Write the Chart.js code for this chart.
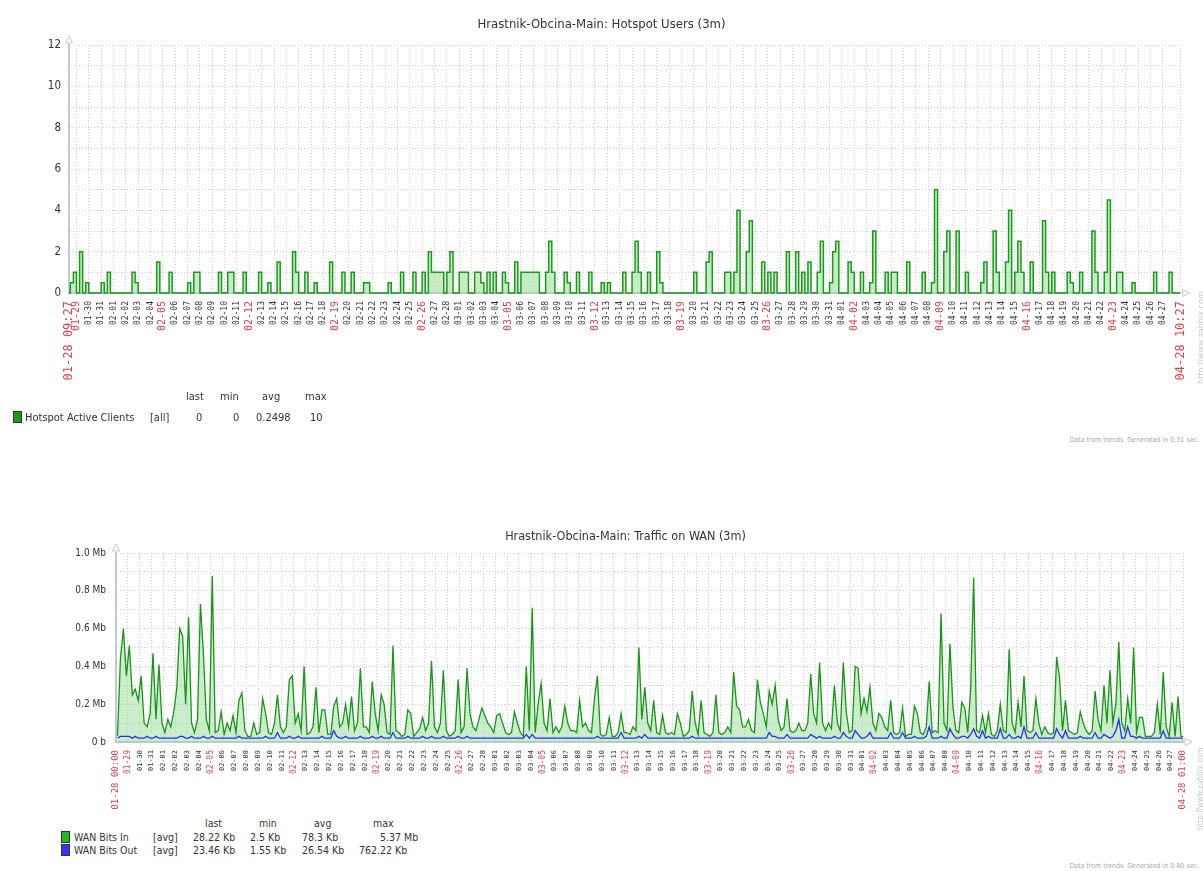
<!DOCTYPE html>
<html>
<head>
<meta charset="utf-8">
<script src="https://cdn.jsdelivr.net/npm/chart.js@4.4.1/dist/chart.umd.min.js"></script>
<style>
  body { margin: 0; background: #fff; width: 1203px; height: 871px; overflow: hidden; position: relative;
         font-family: 'DejaVu Sans Condensed', 'DejaVu Sans', sans-serif; color: #333; }
  canvas { position: absolute; left: 0; }
  .t { position: absolute; white-space: nowrap; line-height: 1; }
  .lg1 { font-size: 11px; }
  .lg2 { font-size: 10.5px; }
  .sq { position: absolute; border: 1px solid #333; box-sizing: border-box; }
  .foot { position: absolute; right: 4px; font-size: 7px; color: #aaa; white-space: nowrap; }
  .link { position: absolute; color: #c8c8c8; white-space: nowrap; transform-origin: 0 0; transform: rotate(-90deg); }
</style>
</head>
<body>
<canvas id="hotspot" width="1203" height="395" style="top:0"></canvas>
<canvas id="wan" width="1203" height="307" style="top:510px"></canvas>

<!-- legend: hotspot -->
<div class="t lg1" style="left:186px;top:391px">last</div>
<div class="t lg1" style="left:220px;top:391px">min</div>
<div class="t lg1" style="left:262px;top:391px">avg</div>
<div class="t lg1" style="left:305px;top:391px">max</div>
<div class="sq" style="left:13px;top:411px;width:9px;height:12px;background:#1a9a1a"></div>
<div class="t lg1" style="left:25px;top:412px">Hotspot Active Clients</div>
<div class="t lg1" style="left:150px;top:412px">[all]</div>
<div class="t lg1" style="left:196px;top:412px">0</div>
<div class="t lg1" style="left:233px;top:412px">0</div>
<div class="t lg1" style="left:256px;top:412px">0.2498</div>
<div class="t lg1" style="left:310px;top:412px">10</div>
<div class="foot" style="top:436px">Data from trends. Generated in 0.31 sec.</div>
<div class="link" style="left:1196px;top:384px;font-size:9px">http://www.zabbix.com</div>

<!-- legend: wan -->
<div class="t lg2" style="left:205px;top:818px">last</div>
<div class="t lg2" style="left:259px;top:818px">min</div>
<div class="t lg2" style="left:314px;top:818px">avg</div>
<div class="t lg2" style="left:373px;top:818px">max</div>
<div class="sq" style="left:61px;top:831px;width:9px;height:12px;background:#22bb22"></div>
<div class="t lg2" style="left:74px;top:832px">WAN Bits In</div>
<div class="t lg2" style="left:153px;top:832px">[avg]</div>
<div class="t lg2" style="left:193px;top:832px">28.22 Kb</div>
<div class="t lg2" style="left:250px;top:832px">2.5 Kb</div>
<div class="t lg2" style="left:302px;top:832px">78.3 Kb</div>
<div class="t lg2" style="left:380px;top:832px">5.37 Mb</div>
<div class="sq" style="left:61px;top:844px;width:9px;height:12px;background:#3333ff"></div>
<div class="t lg2" style="left:74px;top:845px">WAN Bits Out</div>
<div class="t lg2" style="left:153px;top:845px">[avg]</div>
<div class="t lg2" style="left:193px;top:845px">23.46 Kb</div>
<div class="t lg2" style="left:250px;top:845px">1.55 Kb</div>
<div class="t lg2" style="left:302px;top:845px">26.54 Kb</div>
<div class="t lg2" style="left:359px;top:845px">762.22 Kb</div>
<div class="foot" style="top:862px">Data from trends. Generated in 0.80 sec.</div>
<div class="link" style="left:1196px;top:830px;font-size:8px">http://www.zabbix.com</div>

<script>
// time axis: days counted from 01-28 00:00, one sample every 6 hours
const sampleStart = 0.125;
const sampleStep = 0.25;

// day ticks 01-29 .. 04-27 (day offsets 1..89)
const dayLabels = [
  '01-29','01-30','01-31',
  '02-01','02-02','02-03','02-04','02-05','02-06','02-07','02-08','02-09','02-10',
  '02-11','02-12','02-13','02-14','02-15','02-16','02-17','02-18','02-19','02-20',
  '02-21','02-22','02-23','02-24','02-25','02-26','02-27','02-28',
  '03-01','03-02','03-03','03-04','03-05','03-06','03-07','03-08','03-09','03-10',
  '03-11','03-12','03-13','03-14','03-15','03-16','03-17','03-18','03-19','03-20',
  '03-21','03-22','03-23','03-24','03-25','03-26','03-27','03-28','03-29','03-30','03-31',
  '04-01','04-02','04-03','04-04','04-05','04-06','04-07','04-08','04-09','04-10',
  '04-11','04-12','04-13','04-14','04-15','04-16','04-17','04-18','04-19','04-20',
  '04-21','04-22','04-23','04-24','04-25','04-26','04-27'
];
const mondayLabels = ['01-29','02-05','02-12','02-19','02-26','03-05','03-12','03-19','03-26','04-02','04-09','04-16','04-23'];

const hotspotRange = [0.394, 90.435];
const hotspotEnds = ['01-28 09:27', '04-28 10:27'];
const wanRange = [0, 90.042];
const wanEnds = ['01-28 00:00', '04-28 01:00'];

const wanYLabels = ['0 b', '0.2 Mb', '0.4 Mb', '0.6 Mb', '0.8 Mb', '1.0 Mb'];

// Hotspot Active Clients (avg per 6h)
const hotspotUsers = [
  0,0,0.5,1, 0,2,0,0.5, 0,0,0,0, 0.5,0,1,0, 0,0,0,0,
  0,0,1,0.5, 0,0,0,0, 0,0,1.5,0, 0,0,1,0, 0,0,0,0,
  0.5,0,1,1, 0,0,0,0, 0,0,1,0, 0,1,1,0, 0,0,1,0,
  0,0,0,1, 0,0,0.5,0, 0,1.5,0,0, 0,0,2,1, 0,0,1,0,
  0,0.5,0,0, 0,0,1.5,0, 0,0,1,0, 0,1,0,0, 0,0.5,0.5,0,
  0,0,0,0, 0,0.5,0,0, 0,1,0,0, 0,1,0,0, 1,0,2,1,
  1,1,1,0, 1,2,0,0, 1,1,1,0, 0,1,1,0.5, 0,1,0,1,
  0,0,1,0.5, 0,0,1.5,0, 1,1,1,1, 1,1,0,0, 1,2.5,1,0,
  0,0,1,0.5, 0,0,1,0, 0,0,1,0, 0,0,0.5,0, 0.5,0,0,0,
  0,1,0,0, 1,2.5,1,0, 0,1,0,0, 2,0.5,0,0, 0,0,0,0,
  0,0,0,0, 1,0,0,0, 1.5,2,0,0, 0,0,1,1, 0,1,4,0,
  0,2,3.5,0, 0,0,1.5,0, 1,0,1,0, 0,0,2,0, 0,2,0,1,
  0,1.5,0,0, 1,2.5,0,0, 0.5,2,2.5,0, 0,0,1.5,1, 0,0,1,0,
  0,0.5,3,0, 0,0,1,0, 1,1,0,0, 0,1.5,0,0, 0,0,1,0,
  0,0.5,5,0, 0,2,3,0, 0,3,0,0, 1,0,0,0, 0,0.5,1.5,0,
  0,3,1,0, 0,1.5,4,0, 1,2.5,1,0, 0,1.5,0,0, 0,3.5,1,0,
  1,0,0,0, 0,1,0.5,0, 0,1,0,0, 0,3,1,0, 0,1,4.5,0,
  0,1,1,0, 0,0,0.5,0, 0,0,0,0, 0,1,0,0, 0,0,1,0,
  0,0
];

// WAN Bits In, Mb (avg per 6h)
const wanBitsIn = [
  0.03,0.44,0.6,0.35, 0.51,0.25,0.28,0.22, 0.35,0.1,0.08,0.15, 0.47,0.12,0.41,0.1, 0.05,0.12,0.08,0.16,
  0.28,0.6,0.56,0.2, 0.66,0.1,0.05,0.12, 0.73,0.47,0.12,0.06, 0.88,0.05,0.06,0.16, 0.04,0.1,0.06,0.14,
  0.05,0.22,0.26,0.06, 0.03,0.03,0.1,0.04, 0.05,0.23,0.15,0.05, 0.04,0.1,0.25,0.08, 0.05,0.08,0.33,0.35,
  0.1,0.15,0.06,0.4, 0.04,0.05,0.08,0.29, 0.05,0.17,0.17,0.04, 0.04,0.19,0.23,0.08, 0.1,0.2,0.08,0.24,
  0.06,0.1,0.39,0.08, 0.08,0.05,0.32,0.15, 0.06,0.25,0.2,0.05, 0.04,0.51,0.06,0.05, 0.03,0.04,0.17,0.15,
  0.03,0.05,0.07,0.13, 0.06,0.1,0.43,0.08, 0.05,0.1,0.38,0.06, 0.03,0.04,0.06,0.33, 0.05,0.08,0.39,0.15,
  0.08,0.06,0.12,0.18, 0.14,0.1,0.08,0.05, 0.14,0.15,0.1,0.05, 0.04,0.05,0.16,0.1, 0.05,0.03,0.4,0.06,
  0.71,0.05,0.2,0.31, 0.1,0.06,0.23,0.05, 0.08,0.05,0.08,0.19, 0.1,0.06,0.06,0.05, 0.22,0.08,0.1,0.06,
  0.05,0.23,0.35,0.04, 0.03,0.04,0.13,0.03, 0.03,0.05,0.15,0.05, 0.05,0.04,0.08,0.06, 0.5,0.12,0.29,0.1,
  0.06,0.22,0.05,0.04, 0.14,0.05,0.04,0.05, 0.04,0.15,0.1,0.03, 0.04,0.06,0.27,0.1, 0.04,0.22,0.05,0.04,
  0.03,0.05,0.25,0.05, 0.04,0.05,0.08,0.05, 0.37,0.19,0.17,0.08, 0.08,0.12,0.06,0.05, 0.33,0.21,0.15,0.08,
  0.27,0.2,0.3,0.12, 0.06,0.08,0.23,0.06, 0.05,0.06,0.1,0.06, 0.06,0.1,0.36,0.15, 0.1,0.42,0.1,0.06,
  0.1,0.07,0.3,0.1, 0.06,0.42,0.16,0.05, 0.06,0.4,0.39,0.15, 0.23,0.16,0.29,0.1, 0.06,0.15,0.13,0.08,
  0.06,0.22,0.05,0.04, 0.05,0.18,0.03,0.04, 0.04,0.19,0.15,0.05, 0.04,0.08,0.32,0.05, 0.06,0.05,0.68,0.1,
  0.06,0.52,0.19,0.06, 0.05,0.21,0.18,0.05, 0.28,0.87,0.06,0.05, 0.14,0.05,0.15,0.04, 0.03,0.06,0.2,0.06,
  0.05,0.49,0.1,0.05, 0.21,0.08,0.35,0.06, 0.05,0.06,0.23,0.1, 0.04,0.08,0.05,0.04, 0.05,0.45,0.34,0.06,
  0.22,0.06,0.05,0.04, 0.05,0.16,0.1,0.06, 0.04,0.06,0.27,0.12, 0.06,0.3,0.1,0.38, 0.1,0.2,0.53,0.1,
  0.06,0.23,0.1,0.5, 0.05,0.13,0.13,0.03, 0.03,0.03,0.05,0.2, 0.04,0.37,0.08,0.03, 0.21,0.03,0.24,0.03,
  0.03
];

// WAN Bits Out, Mb (avg per 6h)
const wanBitsOut = [
  0.02,0.03,0.03,0.03, 0.03,0.02,0.03,0.02, 0.02,0.02,0.03,0.02, 0.02,0.03,0.02,0.02, 0.02,0.02,0.02,0.02,
  0.02,0.03,0.03,0.02, 0.02,0.03,0.02,0.02, 0.02,0.03,0.02,0.02, 0.03,0.02,0.02,0.02, 0.02,0.02,0.02,0.02,
  0.02,0.03,0.02,0.02, 0.02,0.02,0.02,0.02, 0.02,0.02,0.03,0.02, 0.02,0.02,0.05,0.02, 0.02,0.02,0.03,0.02,
  0.02,0.03,0.02,0.02, 0.02,0.02,0.02,0.02, 0.02,0.03,0.02,0.02, 0.02,0.06,0.03,0.02, 0.02,0.03,0.02,0.02,
  0.02,0.02,0.03,0.02, 0.02,0.02,0.03,0.02, 0.02,0.03,0.02,0.02, 0.02,0.05,0.02,0.02, 0.02,0.02,0.03,0.02,
  0.02,0.02,0.02,0.03, 0.02,0.02,0.03,0.02, 0.02,0.02,0.03,0.02, 0.02,0.02,0.02,0.03, 0.02,0.02,0.03,0.02,
  0.02,0.02,0.02,0.02, 0.02,0.02,0.02,0.02, 0.02,0.02,0.02,0.02, 0.02,0.02,0.02,0.02, 0.02,0.02,0.04,0.02,
  0.04,0.02,0.02,0.02, 0.02,0.02,0.02,0.02, 0.02,0.02,0.02,0.02, 0.02,0.02,0.02,0.02, 0.02,0.02,0.02,0.02,
  0.02,0.02,0.03,0.02, 0.02,0.02,0.02,0.02, 0.02,0.02,0.05,0.02, 0.02,0.02,0.02,0.02, 0.03,0.02,0.04,0.02,
  0.02,0.02,0.02,0.02, 0.02,0.02,0.02,0.02, 0.02,0.02,0.02,0.02, 0.02,0.02,0.03,0.02, 0.02,0.02,0.02,0.02,
  0.02,0.02,0.02,0.02, 0.02,0.02,0.02,0.02, 0.02,0.02,0.02,0.02, 0.02,0.02,0.02,0.02, 0.02,0.02,0.02,0.02,
  0.05,0.03,0.03,0.02, 0.02,0.02,0.04,0.02, 0.02,0.02,0.02,0.02, 0.02,0.02,0.04,0.03, 0.02,0.03,0.02,0.02,
  0.02,0.02,0.03,0.02, 0.02,0.05,0.03,0.02, 0.02,0.06,0.04,0.02, 0.02,0.03,0.05,0.02, 0.02,0.02,0.02,0.02,
  0.02,0.05,0.02,0.02, 0.02,0.05,0.02,0.02, 0.02,0.03,0.02,0.02, 0.02,0.03,0.08,0.02, 0.02,0.02,0.03,0.02,
  0.02,0.07,0.04,0.02, 0.02,0.03,0.03,0.02, 0.04,0.07,0.03,0.02, 0.06,0.02,0.03,0.02, 0.02,0.02,0.07,0.02,
  0.02,0.04,0.02,0.02, 0.03,0.02,0.08,0.02, 0.02,0.02,0.05,0.02, 0.02,0.02,0.02,0.02, 0.02,0.07,0.04,0.02,
  0.06,0.02,0.02,0.02, 0.02,0.03,0.02,0.02, 0.02,0.02,0.05,0.02, 0.02,0.04,0.03,0.02, 0.03,0.06,0.12,0.02,
  0.02,0.08,0.03,0.03, 0.02,0.03,0.02,0.02, 0.02,0.02,0.02,0.02, 0.02,0.06,0.02,0.02, 0.02,0.02,0.02,0.02,
  0.02
];

const sansFont = "'DejaVu Sans Condensed', 'DejaVu Sans', sans-serif";
const monoFont = "'DejaVu Sans Mono', monospace";
const axisColor = '#c2c8d4';
const gridColor = '#cfcfcf';

function toPoints(values) {
  return values.map((v, i) => ({ x: sampleStart + i * sampleStep, y: v }));
}

// arrows at the ends of the axes, zabbix style
const axisArrows = {
  id: 'axisArrows',
  afterDraw(chart) {
    const { ctx, chartArea: a } = chart;
    ctx.save();
    ctx.strokeStyle = axisColor;
    ctx.fillStyle = '#fff';
    ctx.lineWidth = 1;
    ctx.beginPath();
    ctx.moveTo(a.left - 3.5, a.top - 2);
    ctx.lineTo(a.left, a.top - 9);
    ctx.lineTo(a.left + 3.5, a.top - 2);
    ctx.closePath();
    ctx.fill(); ctx.stroke();
    ctx.beginPath();
    ctx.moveTo(a.right + 2, a.bottom - 3.5);
    ctx.lineTo(a.right + 9, a.bottom);
    ctx.lineTo(a.right + 2, a.bottom + 3.5);
    ctx.closePath();
    ctx.fill(); ctx.stroke();
    ctx.restore();
  }
};

function xAxis(range, ends, height, sizes) {
  const n = dayLabels.length + 2;
  return {
    type: 'linear',
    min: range[0],
    max: range[1],
    afterBuildTicks(scale) {
      const ticks = [{ value: range[0] }];
      dayLabels.forEach((d, i) => ticks.push({ value: i + 1 }));
      ticks.push({ value: range[1] });
      scale.ticks = ticks;
    },
    afterFit(scale) { scale.height = height; },
    grid: { color: gridColor, lineWidth: 1, drawTicks: false },
    border: { color: axisColor, width: 2, dash: [1, 2] },
    ticks: {
      autoSkip: false,
      minRotation: 90,
      maxRotation: 90,
      padding: 8,
      callback: (v, i) => i === 0 ? ends[0] : (i === n - 1 ? ends[1] : dayLabels[i - 1]),
      color: ctx => {
        const i = ctx.index;
        if (i === 0 || i === n - 1) return '#e0404a';
        return mondayLabels.includes(dayLabels[i - 1]) ? '#e0404a' : '#333';
      },
      font: ctx => {
        const i = ctx.index;
        if (i === 0 || i === n - 1) return { family: monoFont, size: sizes[2] };
        return { family: monoFont, size: mondayLabels.includes(dayLabels[i - 1]) ? sizes[1] : sizes[0] };
      }
    }
  };
}

new Chart(document.getElementById('hotspot'), {
  type: 'line',
  data: {
    datasets: [{
      label: 'Hotspot Active Clients',
      data: toPoints(hotspotUsers),
      stepped: 'middle',
      borderColor: '#1a9a1a',
      borderWidth: 1.5,
      backgroundColor: 'rgba(150,220,150,0.55)',
      fill: 'origin',
      pointRadius: 0,
      clip: { left: 0, top: 0, right: 0, bottom: 3 }
    }]
  },
  plugins: [axisArrows],
  options: {
    responsive: false,
    animation: false,
    layout: { padding: { left: 20, right: 20, top: 0, bottom: 0 } },
    plugins: {
      legend: { display: false },
      tooltip: { enabled: false },
      title: {
        display: true,
        text: 'Hrastnik-Obcina-Main: Hotspot Users (3m)',
        color: '#333',
        font: { family: sansFont, size: 13, weight: 'normal' },
        padding: { top: 17, bottom: 12.4 }
      }
    },
    scales: {
      x: xAxis(hotspotRange, hotspotEnds, 102, [8, 10, 12]),
      y: {
        min: 0,
        max: 12,
        afterFit(scale) { scale.width = 49; },
        grid: { color: gridColor, drawTicks: false },
        border: { color: axisColor, width: 2, dash: [1, 2] },
        ticks: {
          stepSize: 1,
          padding: 8,
          color: '#333',
          font: { family: sansFont, size: 11.5 },
          callback: v => v % 2 === 0 ? String(v) : ''
        }
      }
    }
  }
});

new Chart(document.getElementById('wan'), {
  type: 'line',
  data: {
    datasets: [{
      label: 'WAN Bits Out',
      data: toPoints(wanBitsOut),
      borderColor: '#2b2bff',
      borderWidth: 1.3,
      fill: false,
      pointRadius: 0,
      clip: { left: 0, top: 0, right: 0, bottom: 3 }
    }, {
      label: 'WAN Bits In',
      data: toPoints(wanBitsIn),
      borderColor: '#179517',
      borderWidth: 1.3,
      backgroundColor: 'rgba(140,215,140,0.45)',
      fill: 'origin',
      pointRadius: 0,
      clip: { left: 0, top: 0, right: 0, bottom: 3 }
    }]
  },
  plugins: [axisArrows],
  options: {
    responsive: false,
    animation: false,
    layout: { padding: { left: 68, right: 20, top: 0, bottom: 0 } },
    plugins: {
      legend: { display: false },
      tooltip: { enabled: false },
      title: {
        display: true,
        text: 'Hrastnik-Obcina-Main: Traffic on WAN (3m)',
        color: '#333',
        font: { family: sansFont, size: 12.5, weight: 'normal' },
        padding: { top: 19.5, bottom: 8.5 }
      }
    },
    scales: {
      x: xAxis(wanRange, wanEnds, 75, [7, 8, 9]),
      y: {
        min: 0,
        max: 1,
        afterFit(scale) { scale.width = 48; },
        grid: { color: gridColor, drawTicks: false },
        border: { color: axisColor, width: 2, dash: [1, 2] },
        ticks: {
          stepSize: 0.1,
          padding: 10,
          color: '#333',
          font: { family: sansFont, size: 10 },
          callback: v => {
            const k = Math.round(v * 10);
            return k % 2 === 0 ? wanYLabels[k / 2] : '';
          }
        }
      }
    }
  }
});
</script>
</body>
</html>
